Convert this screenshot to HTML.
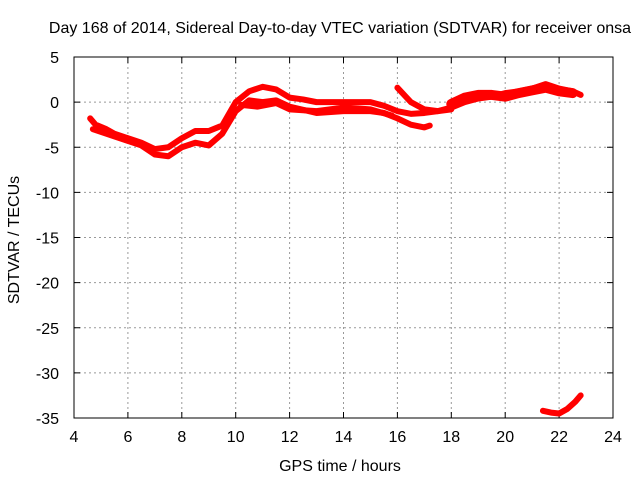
<!DOCTYPE html>
<html><head><meta charset="utf-8"><style>
body{margin:0;background:#fff;}
svg{display:block;font-family:"Liberation Sans",sans-serif;}
</style></head><body>
<svg id="chart" width="640" height="480">
<text x="340" y="33" text-anchor="middle" font-size="16">Day 168 of 2014, Sidereal Day-to-day VTEC variation (SDTVAR) for receiver onsa</text>
<text x="340" y="471" text-anchor="middle" font-size="16">GPS time / hours</text>
<text x="0" y="0" transform="translate(19,240) rotate(-90)" text-anchor="middle" font-size="16">SDTVAR / TECUs</text>
<g id="grid"></g><g id="ticks"></g><g id="series"></g>
<rect x="74" y="57" width="539" height="361" fill="none" stroke="#000" stroke-width="1"/>
</svg>
<script>
const xTicks=[4,6,8,10,12,14,16,18,20,22,24];
const yTicks=[5,0,-5,-10,-15,-20,-25,-30,-35];
const upperH=[4.6,4.8,5.2,5.5,6,6.5,7,7.5,8,8.5,9,9.5,10,10.5,11,11.5,12,12.5,13,14,15,15.5,16,16.5,17,17.5,18,18.5,19,19.5,20,20.5,21,21.5,22,22.5,22.8];
const upperV=[-1.8,-2.5,-3,-3.5,-4,-4.5,-5.2,-5,-4,-3.2,-3.2,-2.6,0,1.2,1.7,1.4,0.5,0.3,0,0,0,-0.4,-1,-1.3,-1.2,-1,-0.6,0,0.4,0.6,1,1.2,1.5,2,1.5,1.2,0.8];
const lowerH=[4.7,5.5,6.5,7,7.5,8,8.5,9,9.5,10,10.5,11,11.5,12,13,14,15,15.5,16,16.5,17,17.2];
const lowerV=[-3,-3.8,-4.8,-5.8,-6,-5,-4.5,-4.8,-3.5,-1,0.2,0,0.2,-0.5,-1.2,-1,-1,-1.2,-1.8,-2.5,-2.8,-2.6];
const midH=[10.2,10.8,11.5,12,13,14,15,15.8];
const midV=[-0.3,-0.5,-0.1,-0.8,-1,-0.6,-0.8,-1.5];
const spurH=[16,16.5,17,17.5,18];
const spurV=[1.6,0,-0.8,-1,-0.8];
const bandH=[18,18.5,19,19.5,20,20.5,21,21.5,22,22.5];
const bandV=[-0.2,0.5,0.8,0.8,0.6,1,1.3,1.6,1.2,1];
const dropH=[21.4,21.7,22,22.3,22.6,22.8];
const dropV=[-34.2,-34.4,-34.5,-34,-33.2,-32.5];
const X=h=>74+(h-4)*26.95, Y=v=>57+(5-v)*9.025;
const NS="http://www.w3.org/2000/svg";
const g=document.getElementById('grid'),t=document.getElementById('ticks'),s=document.getElementById('series');
function mk(tag,at,p){const e=document.createElementNS(NS,tag);for(const k in at)e.setAttribute(k,at[k]);p.appendChild(e);return e;}
xTicks.forEach(v=>{const x=X(v);
 if(v>4&&v<24){const l=mk('line',{x1:x,x2:x,y1:57,y2:418,stroke:'#999','stroke-dasharray':'2,3'},g);
 
 }
 mk('line',{x1:x,x2:x,y1:418,y2:412,stroke:'#000'},t);mk('line',{x1:x,x2:x,y1:57,y2:63,stroke:'#000'},t);
 const tx=mk('text',{x:x,y:442,'text-anchor':'middle','font-size':'16'},t);tx.textContent=v;
 
 });
yTicks.forEach(v=>{const y=Y(v);
 if(v<5&&v>-35){const l=mk('line',{x1:74,x2:613,y1:y,y2:y,stroke:'#999','stroke-dasharray':'2,3'},g);
 
 }
 mk('line',{x1:74,x2:80,y1:y,y2:y,stroke:'#000'},t);mk('line',{x1:613,x2:607,y1:y,y2:y,stroke:'#000'},t);
 const tx=mk('text',{x:59,y:y+6,'text-anchor':'end','font-size':'16'},t);tx.textContent=v;
 
 });
[[upperH,upperV,'upper'],[lowerH,lowerV,'lower'],[midH,midV,'middle'],[spurH,spurV,'spur'],[bandH,bandV,'late'],[dropH,dropV,'outlier']].forEach(([H,V,n])=>{
 const p=mk('polyline',{points:H.map((h,i)=>X(h)+','+Y(V[i])).join(' '),fill:'none',stroke:'#f00','stroke-width':n==='late'?10:6,'stroke-linejoin':'round','stroke-linecap':'round'},s);
 
 });
</script>
</body></html>
